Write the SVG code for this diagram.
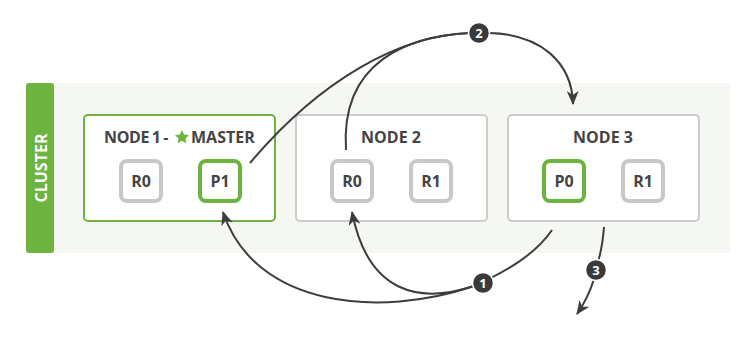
<svg xmlns="http://www.w3.org/2000/svg" width="750" height="337" viewBox="0 0 750 337">
<style>
.node{fill:#fff;stroke:#cccccc;stroke-width:2}
.master{stroke:#6cb33f}
.title{font-family:"Open Sans","Liberation Sans",sans-serif;font-weight:bold;font-size:16px;fill:#444;text-anchor:middle}
.shard{fill:#fff;stroke:#c8c8c8;stroke-width:4}
.primary{stroke:#6cb33f}
.lbl{font-family:"Open Sans","Liberation Sans",sans-serif;font-weight:bold;font-size:16px;fill:#444;text-anchor:middle}
.conn{fill:none;stroke:#3d3d3d;stroke-width:2}
.badge{fill:#3a3a3a;stroke:#fff;stroke-width:1.5}
.num{font-family:"Open Sans","Liberation Sans",sans-serif;font-weight:bold;font-size:13px;fill:#fff;text-anchor:middle}
</style>
<defs>
<marker id="ah" viewBox="0 0 14 12" refX="13" refY="6" markerWidth="14" markerHeight="12" markerUnits="userSpaceOnUse" orient="auto">
<path d="M0,0 L14,6 L0,12 L4,6 Z" fill="#3d3d3d"/>
</marker>
</defs>
<rect width="750" height="337" fill="#fff"/>
<g id="cluster">
<rect x="26" y="83" width="704" height="170" rx="3" fill="#f5f7f2"/>
<rect x="26" y="83" width="28" height="170" rx="3" fill="#6cb33f"/>
<text x="41" y="168" transform="rotate(-90 41 168)" text-anchor="middle" dominant-baseline="central" style="font-family:'Open Sans','Liberation Sans',sans-serif;font-weight:bold;font-size:16px;fill:#fff">CLUSTER</text>
</g>
<g id="node1">
<rect class="node master" x="84" y="115" width="191" height="106" rx="4"/>
<text class="title" x="168" y="143" style="text-anchor:end;word-spacing:-1px;letter-spacing:-0.4px">NODE 1 -</text>
<polygon points="182,130 184.2,134.6 189,135.2 185.4,138.4 186.4,143.2 182,140.8 177.6,143.2 178.6,138.4 175,135.2 179.8,134.6" fill="#6cb33f"/>
<text class="title" x="191" y="143" style="text-anchor:start">MASTER</text>
</g>
<g id="n1r0">
<rect class="shard" x="121" y="161" width="40" height="40" rx="6"/>
<text class="lbl" x="141" y="187">R0</text>
</g>
<g id="n1p1">
<rect class="shard primary" x="200" y="161" width="40" height="40" rx="6"/>
<text class="lbl" x="220" y="187">P1</text>
</g>
<g id="node2">
<rect class="node" x="296" y="115" width="191" height="106" rx="4"/>
<text class="title" x="391" y="143">NODE 2</text>
</g>
<g id="n2r0">
<rect class="shard" x="332" y="161" width="40" height="40" rx="6"/>
<text class="lbl" x="352" y="187">R0</text>
</g>
<g id="n2r1">
<rect class="shard" x="411" y="161" width="40" height="40" rx="6"/>
<text class="lbl" x="431" y="187">R1</text>
</g>
<g id="node3">
<rect class="node" x="508" y="115" width="191" height="106" rx="4"/>
<text class="title" x="603" y="143">NODE 3</text>
</g>
<g id="n3p0">
<rect class="shard primary" x="544" y="161" width="40" height="40" rx="6"/>
<text class="lbl" x="564" y="187">P0</text>
</g>
<g id="n3r1">
<rect class="shard" x="623" y="161" width="40" height="40" rx="6"/>
<text class="lbl" x="643" y="187">R1</text>
</g>
<g id="connectors">
<path class="conn" d="M250,163 C320,80 400,35 470,33"/>
<path class="conn" d="M346,150 C340,60 410,36 470,33"/>
<path class="conn" d="M489,33 C540,34 572,62 573,104" marker-end="url(#ah)"/>
<path class="conn" d="M552,230 C535,255 505,272 474,286"/>
<path class="conn" d="M474,286 C420,304 368,294 352,212" marker-end="url(#ah)"/>
<path class="conn" d="M474,286 C380,318 255,308 223,212" marker-end="url(#ah)"/>
<path class="conn" d="M604,227 C603,240 601,252 598,262"/>
<path class="conn" d="M594,279 C590,292 584,304 577,314" marker-end="url(#ah)"/>
</g>
<g id="badge2">
<circle class="badge" cx="479" cy="33" r="10.5"/>
<text class="num" x="479" y="37.5">2</text>
</g>
<g id="badge1">
<circle class="badge" cx="483" cy="283" r="10.5"/>
<text class="num" x="483" y="287.5">1</text>
</g>
<g id="badge3">
<circle class="badge" cx="596" cy="270" r="10.5"/>
<text class="num" x="596" y="274.5">3</text>
</g>
</svg>
